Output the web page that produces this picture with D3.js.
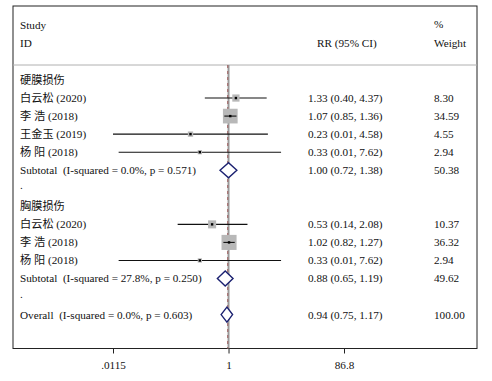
<!doctype html>
<html lang="en">
<head>
  <meta charset="utf-8">
  <title>Forest plot</title>
  <style>
    body { margin: 0; background: #fff; }
    svg text { font-family: "Liberation Serif", "Noto Sans CJK SC", serif; font-size: 11.2px; fill: #111; white-space: pre; }
  </style>
</head>
<body>
  <svg width="492" height="381"></svg>
  <script src="https://cdn.jsdelivr.net/npm/d3@7/dist/d3.min.js"></script>
  <script>
    // data
    const groups = ["硬膜损伤", "胸膜损伤"];
    const studies = ["白云松 (2020)", "李 浩 (2018)", "王金玉 (2019)", "杨 阳 (2018)",
                     "白云松 (2020)", "李 浩 (2018)", "杨 阳 (2018)"];
    const studyGroup = [0, 0, 0, 0, 1, 1, 1];
    const rr = [1.33, 1.07, 0.23, 0.33, 0.53, 1.02, 0.33];
    const lower = [0.40, 0.85, 0.0115, 0.0143, 0.14, 0.82, 0.0143];
    const upper = [4.37, 1.36, 4.58, 7.62, 2.08, 1.27, 7.62];
    const weight = [8.30, 34.59, 4.55, 2.94, 10.37, 36.32, 2.94];

    const subLabels = ["Subtotal  (I-squared = 0.0%, p = 0.571)", "Subtotal  (I-squared = 27.8%, p = 0.250)"];
    const subRR = [1.00, 0.88];
    const subLower = [0.72, 0.65];
    const subUpper = [1.38, 1.19];
    const subWeight = [50.38, 49.62];

    const overallLabel = "Overall  (I-squared = 0.0%, p = 0.603)";
    const overallRR = 0.94, overallLower = 0.75, overallUpper = 1.17, overallWeight = 100.00;

    const tickValues = [0.0115, 1, 86.8];
    const tickLabels = [".0115", "1", "86.8"];

    // build the rows: group header, studies, subtotal, blank "."
    const rows = [];
    groups.forEach((g, gi) => {
      rows.push({type: "head", label: g});
      studies.forEach((s, i) => {
        if (studyGroup[i] === gi)
          rows.push({type: "study", label: s, rr: rr[i], lo: lower[i], hi: upper[i], w: weight[i]});
      });
      rows.push({type: "sub", label: subLabels[gi], rr: subRR[gi], lo: subLower[gi], hi: subUpper[gi], w: subWeight[gi]});
      rows.push({type: "blank", label: "."});
    });
    rows.push({type: "sub", label: overallLabel, rr: overallRR, lo: overallLower, hi: overallUpper, w: overallWeight});

    const svg = d3.select("svg");
    const boxL = 13, boxR = 477, boxT = 6, boxB = 348.5, sepY = 65;

    const x = d3.scaleLog().domain([0.0115, 86.8]).range([113, 344]);
    const y = d3.scaleLinear().domain([0, rows.length - 1]).range([80, 314.6]);
    const fmt = v => v.toFixed(2);

    // frame + header separator
    svg.append("rect").attr("x", boxL).attr("y", boxT).attr("width", boxR - boxL).attr("height", boxB - boxT)
      .attr("fill", "none").attr("stroke", "#222").attr("stroke-width", 1);
    svg.append("line").attr("x1", boxL).attr("x2", boxR).attr("y1", sepY).attr("y2", sepY)
      .attr("stroke", "#b0b0b0");

    // header text
    svg.append("text").attr("x", 20).attr("y", 29).text("Study");
    svg.append("text").attr("x", 20).attr("y", 47).text("ID");
    svg.append("text").attr("x", 317).attr("y", 47).text("RR (95% CI)");
    svg.append("text").attr("x", 434).attr("y", 28).text("%");
    svg.append("text").attr("x", 434).attr("y", 47).text("Weight");

    // null line and overall dashed line
    svg.append("line").attr("x1", x(1)).attr("x2", x(1)).attr("y1", sepY).attr("y2", boxB)
      .attr("stroke", "#9a9a9a").attr("stroke-width", 2);
    svg.append("line").attr("x1", x(overallRR) + 0.8).attr("x2", x(overallRR) + 0.8).attr("y1", sepY).attr("y2", boxB)
      .attr("stroke", "#a06060").attr("stroke-width", 1).attr("stroke-dasharray", "3,3");

    const xmin = x.range()[0];
    const indexed = rows.map((r, i) => Object.assign({i}, r));
    const studyRows = indexed.filter(r => r.type === "study");
    const subRows = indexed.filter(r => r.type === "sub");

    // CI lines
    svg.selectAll(".ci").data(studyRows).enter().append("line")
      .attr("x1", d => Math.max(xmin, x(d.lo))).attr("x2", d => x(d.hi))
      .attr("y1", d => y(d.i)).attr("y2", d => y(d.i))
      .attr("stroke", "#111").attr("stroke-width", 1.1);

    // weight boxes
    const k = 2.5;
    svg.selectAll(".box").data(studyRows).enter().append("rect")
      .attr("x", d => x(d.rr) - k * Math.sqrt(d.w) / 2)
      .attr("y", d => y(d.i) - k * Math.sqrt(d.w) / 2)
      .attr("width", d => k * Math.sqrt(d.w))
      .attr("height", d => k * Math.sqrt(d.w))
      .attr("fill", "#b8b8b8");
    // CI line visible over the big boxes
    svg.selectAll(".ci2").data(studyRows.filter(d => d.w > 20)).enter().append("line")
      .attr("x1", d => Math.max(xmin, x(d.lo))).attr("x2", d => x(d.hi))
      .attr("y1", d => y(d.i)).attr("y2", d => y(d.i))
      .attr("stroke", "#111").attr("stroke-width", 1.1);
    svg.selectAll(".pt").data(studyRows).enter().append("rect")
      .attr("x", d => x(d.rr) - 1.2).attr("y", d => y(d.i) - 1.2)
      .attr("width", 2.4).attr("height", 2.4).attr("fill", "#000");

    // diamonds
    svg.selectAll(".dia").data(subRows).enter().append("path")
      .attr("d", d => {
        const cy = y(d.i);
        return `M${x(d.lo)},${cy}L${x(d.rr)},${cy - 7.5}L${x(d.hi)},${cy}L${x(d.rr)},${cy + 7.5}Z`;
      })
      .attr("fill", "#fff").attr("stroke", "#1a2070").attr("stroke-width", 1.4);

    // row labels and numbers
    svg.selectAll(".lab").data(rows).enter().append("text")
      .attr("x", 20).attr("y", (d, i) => y(i)).attr("dy", d => d.type === "blank" ? "0.1em" : "0.35em")
      .text(d => d.label);
    const numRows = indexed.filter(r => r.type === "study" || r.type === "sub");
    svg.selectAll(".est").data(numRows).enter().append("text")
      .attr("x", 308).attr("y", d => y(d.i)).attr("dy", "0.35em")
      .text(d => `${fmt(d.rr)} (${fmt(d.lo)}, ${fmt(d.hi)})`);
    svg.selectAll(".wt").data(numRows).enter().append("text")
      .attr("x", 434).attr("y", d => y(d.i)).attr("dy", "0.35em")
      .text(d => fmt(d.w));

    // x axis
    const axis = d3.axisBottom(x).tickValues(tickValues).tickFormat((d, i) => tickLabels[i]).tickSizeOuter(0).tickSize(5);
    const g = svg.append("g").attr("transform", `translate(0,${boxB})`).call(axis);
    g.select(".domain").remove();
    g.selectAll(".tick line").attr("stroke", "#222");
    g.selectAll(".tick text").attr("dy", "1.15em").attr("fill", "#111")
      .style("font-family", "Liberation Serif").style("font-size", "11.2px");
  </script>
</body>
</html>
